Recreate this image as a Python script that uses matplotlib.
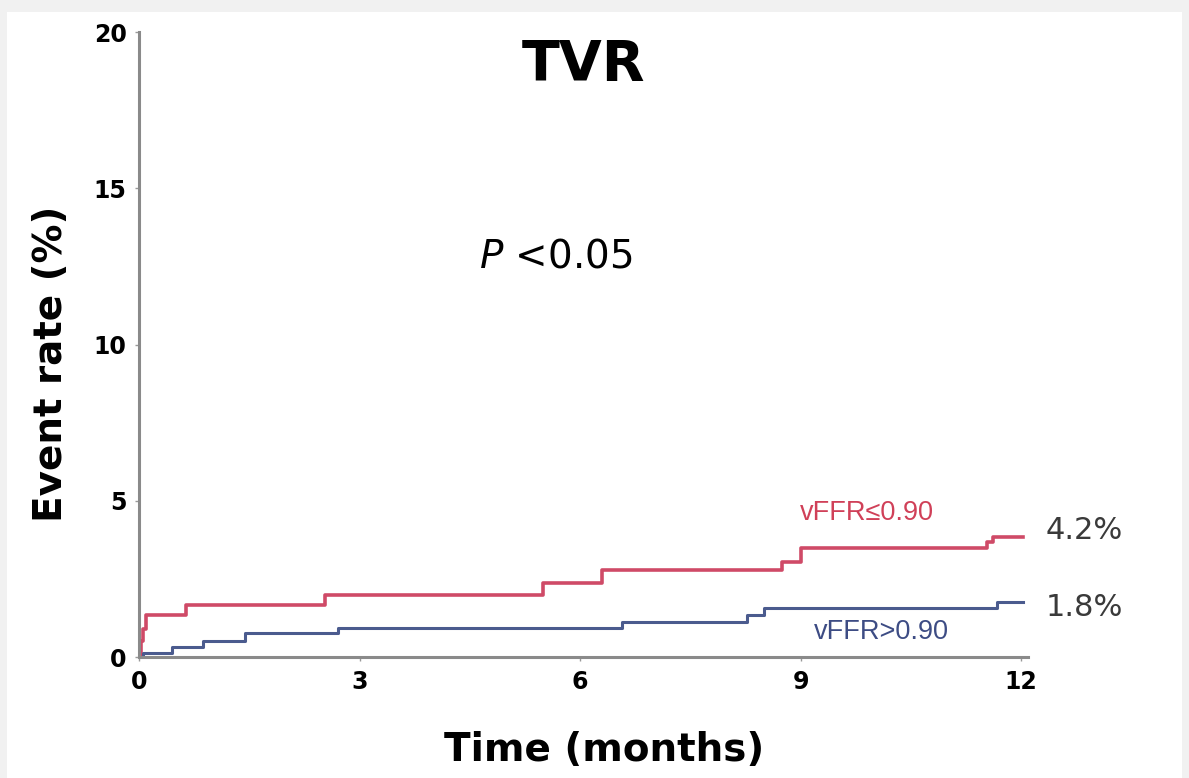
import matplotlib.pyplot as plt
import matplotlib.patches as mpatches

# Kaplan-Meier style event curves (TVR)
red_t = [0, 0.02, 0.05, 0.1, 0.64, 2.53, 5.5, 6.3, 8.75, 9.0, 11.54, 11.62, 12.03]
red_y = [0, 0.5, 0.9, 1.34, 1.65, 1.98, 2.37, 2.78, 3.04, 3.49, 3.68, 3.84, 3.84]
blue_t = [0, 0.05, 0.45, 0.87, 1.44, 2.7, 6.57, 8.27, 8.5, 11.67, 12.03]
blue_y = [0, 0.12, 0.33, 0.5, 0.76, 0.93, 1.12, 1.34, 1.57, 1.76, 1.76]

x_ticks = [0, 3, 6, 9, 12]
y_ticks = [0, 5, 10, 15, 20]

red = "#cf4a67"
blue = "#4b5b8e"

fig = plt.figure(figsize=(11.89, 7.78), dpi=100)
fig.patch.set_facecolor("#f1f1f1")
fig.add_artist(mpatches.Rectangle((0.006, 0.0), 0.988, 0.985, transform=fig.transFigure,
                                  facecolor="white", edgecolor="none", zorder=-10))

ax = fig.add_axes([0.117, 0.1555, 0.748, 0.803])
ax.set_zorder(2)
ax.set_facecolor("none")

ax.step(red_t, red_y, where="post", color=red, lw=2.6)
ax.step(blue_t, blue_y, where="post", color=blue, lw=2.2)

ax.set_xlim(0, 12.1)
ax.set_ylim(0, 20)
ax.set_xticks(x_ticks)
ax.set_yticks(y_ticks)
for lab in ax.get_xticklabels() + ax.get_yticklabels():
    lab.set_fontweight("bold")
ax.tick_params(labelsize=17, length=3, width=1, color="#999999", pad=6)

for s in ["top", "right"]:
    ax.spines[s].set_visible(False)
for s in ["left", "bottom"]:
    ax.spines[s].set_color("#8a8a8a")
    ax.spines[s].set_linewidth(2.2)

ax.set_xlabel("Time (months)", fontsize=28, fontweight="bold")
ax.set_ylabel("Event rate (%)", fontsize=28, fontweight="bold")
ax.xaxis.set_label_coords(0.523, -0.118)
ax.yaxis.set_label_coords(-0.078, 0.47)

ax.text(6.04, 18.94, "TVR", fontsize=40, fontweight="bold", ha="center", va="center")
ax.text(5.67, 12.83, r"$\it{P}$ <0.05", fontsize=28, ha="center", va="center")

ax.text(9.9, 4.6, "vFFR\u22640.90", fontsize=19.5, color="#d04058", ha="center", va="center",
        family="Liberation Sans")
ax.text(10.1, 0.8, "vFFR>0.90", fontsize=19.5, color="#3d4c84", ha="center", va="center",
        family="Liberation Sans")
ax.text(12.86, 4.06, "4.2%", fontsize=22, color="#3a3a3a", ha="center", va="center",
        clip_on=False)
ax.text(12.86, 1.57, "1.8%", fontsize=22, color="#3a3a3a", ha="center", va="center",
        clip_on=False)

plt.savefig("out.png", dpi=100)
